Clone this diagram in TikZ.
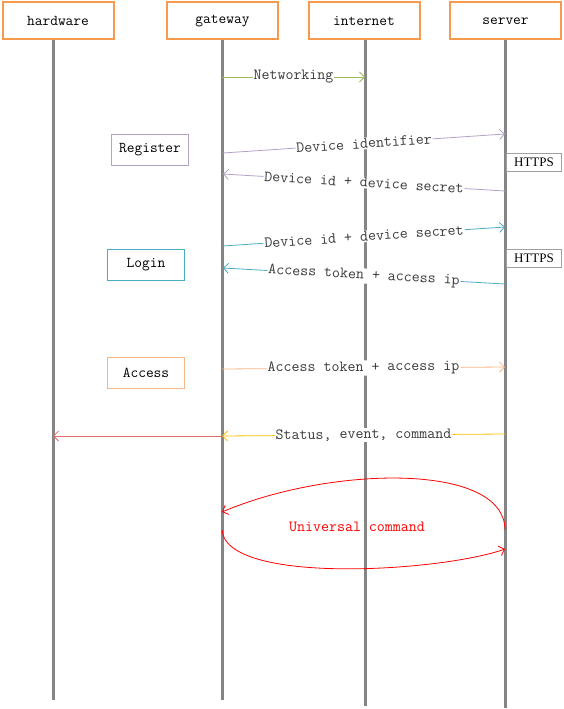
\documentclass[tikz,border=0pt]{standalone}
\usepackage{fontspec}
\newfontfamily\httpsfont{Liberation Serif}
\usetikzlibrary{arrows.meta}
\definecolor{headorange}{HTML}{F79A4E}
\definecolor{lifegray}{HTML}{858585}
\definecolor{netgreen}{HTML}{9BBB59}
\definecolor{regpurple}{HTML}{B3A2C7}
\definecolor{logteal}{HTML}{4BACC6}
\definecolor{accorange}{HTML}{F9B584}
\definecolor{statyellow}{HTML}{FFC000}
\definecolor{hwred}{HTML}{E06C6C}
\definecolor{protogray}{HTML}{A0A0A0}
\definecolor{labelgray}{HTML}{3A3A3A}
\begin{document}
\begin{tikzpicture}[x=1pt, y=-1pt]
    \tikzstyle{head} = [draw=headorange, line width=2pt, minimum width=111pt, minimum height=37pt, inner sep=0pt, font=\fontsize{15}{17}\ttfamily]
    \tikzstyle{life} = [draw=lifegray, line width=3pt]
    \tikzstyle{phase} = [line width=1pt, minimum width=77pt, minimum height=31pt, inner sep=0pt, font=\fontsize{15}{17}\ttfamily]
    \tikzstyle{proto} = [draw=protogray, line width=0.8pt, minimum width=55pt, minimum height=18pt, inner sep=0pt, font=\httpsfont\fontsize{13}{15}\selectfont]
    \tikzstyle{msg} = [line width=0.8pt, -{Straight Barb[length=5pt, width=10pt]}]
    \tikzstyle{lbl} = [fill=white, inner sep=1pt, text=labelgray, font=\fontsize{15.5}{17}\ttfamily, sloped, midway]
    \useasboundingbox (0,0) rectangle (564,709);
    \node[head] (hardware) at (58,21) {hardware};
    \node[head] (gateway) at (222.5,21) {gateway};
    \node[head] (internet) at (364,21) {internet};
    \node[head] (server) at (505.5,21) {server};
    \coordinate (hardware-end) at (53,700);
    \coordinate (gateway-end) at (222,700);
    \coordinate (internet-end) at (365,706);
    \coordinate (server-end) at (505,708);
    \draw[life] (hardware.south -| hardware-end) -- (hardware-end);
    \draw[life] (gateway.south -| gateway-end) -- (gateway-end);
    \draw[life] (internet.south -| internet-end) -- (internet-end);
    \draw[life] (server.south -| server-end) -- (server-end);
    \node[phase, draw=regpurple] (register) at (150,150) {Register};
    \node[phase, draw=logteal] (login) at (146,265) {Login};
    \node[phase, draw=accorange] (access) at (146,373) {Access};
    \node[proto] (https1) at (534,162) {HTTPS};
    \node[proto] (https2) at (534,258) {HTTPS};
    \coordinate (gw1) at (222,77);
    \coordinate (in1) at (365,77);
    \coordinate (gw2) at (223,153);
    \coordinate (sv2) at (505,134);
    \coordinate (sv3) at (505,191);
    \coordinate (gw3) at (223,174);
    \coordinate (gw4) at (223,246);
    \coordinate (sv4) at (505,227);
    \coordinate (sv5) at (505,284);
    \coordinate (gw5) at (223,268);
    \coordinate (gw6) at (222,369);
    \coordinate (sv6) at (505,367);
    \coordinate (sv7) at (505,434);
    \coordinate (gw7) at (222,436);
    \coordinate (hw7) at (53,436);
    \coordinate (sv8) at (505,530);
    \coordinate (gw8) at (222,512);
    \coordinate (gw9) at (222,530);
    \coordinate (sv9) at (505,549);
    \draw[msg, netgreen] (gw1) -- (in1) node[lbl] {Networking};
    \draw[msg, regpurple] (gw2) -- (sv2) node[lbl] {Device identifier};
    \draw[msg, regpurple] (sv3) -- (gw3) node[lbl] {Device id + device secret};
    \draw[msg, logteal] (gw4) -- (sv4) node[lbl] {Device id + device secret};
    \draw[msg, logteal] (sv5) -- (gw5) node[lbl] {Access token + access ip};
    \draw[msg, accorange] (gw6) -- (sv6) node[lbl] {Access token + access ip};
    \draw[msg, statyellow] (sv7) -- (gw7) node[lbl] {Status, event, command};
    \draw[msg, hwred] (gw7) -- (hw7);
    \draw[msg, red] (sv8) .. controls (505,462) and (330,466) .. (gw8);
    \draw[msg, red] (gw9) .. controls (226,585) and (440,572) .. (sv9);
    \node[text=red, font=\fontsize{15.5}{17}\ttfamily] (universal) at (357,527) {Universal command};
\end{tikzpicture}
\end{document}
